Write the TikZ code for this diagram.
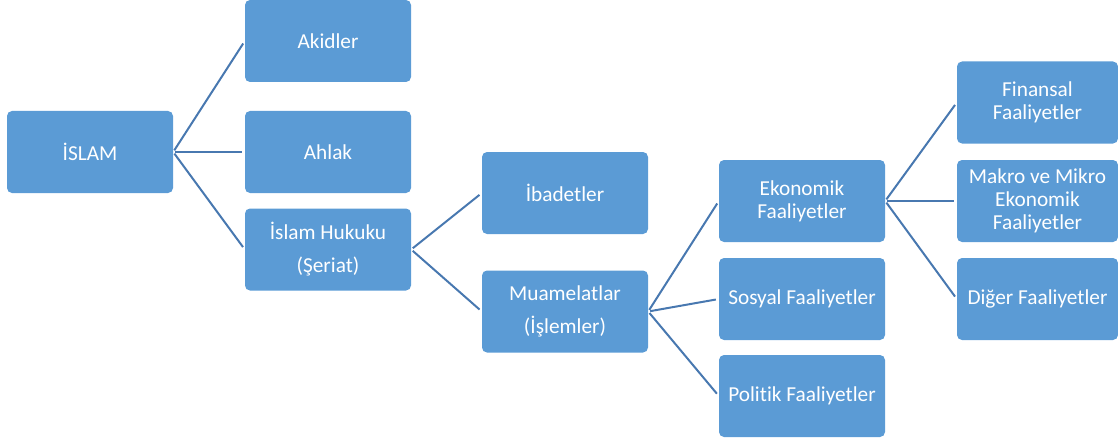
\documentclass[tikz,border=0pt]{standalone}
\usepackage{fontspec}
\setmainfont{Carlito}[Ligatures=NoCommon]
\usetikzlibrary{positioning}
\definecolor{boxblue}{HTML}{5B9BD5}
\definecolor{lineblue}{HTML}{4878B0}

\begin{document}
\begin{tikzpicture}[x=1pt,y=-1pt,
        box node/.style={rectangle,rounded corners=5pt,fill=boxblue,text=white,
          minimum width=166pt,minimum height=82pt,inner sep=2pt,
          align=center,font=\fontsize{21.3}{23}\selectfont},
        wide lines/.style={font=\fontsize{21.3}{33}\selectfont},
        branch/.style={draw=lineblue,line width=2pt,shorten <=2pt,shorten >=3pt}]

      \useasboundingbox (0,0) rectangle (1118,441);

      \node[box node] (islam) at (90,152) {İSLAM};

      \node[box node] (akid) at (328,41) {Akidler};
      \node[box node] (ahlak) at (328,152) {Ahlak};
      \node[box node,wide lines] (hukuk) at (328,249.5) {İslam Hukuku\\(Şeriat)};

      \node[box node] (ibadet) at (565,193) {İbadetler};
      \node[box node,wide lines] (muamelat) at (565,311.5) {Muamelatlar\\(İşlemler)};

      \node[box node] (ekonomik) at (802,201) {Ekonomik\\Faaliyetler};
      \node[box node] (sosyal) at (802,299) {Sosyal Faaliyetler};
      \node[box node] (politik) at (802,396) {Politik Faaliyetler};

      \node[box node,minimum width=161pt] (finans) at (1037.5,102.5) {Finansal\\Faaliyetler};
      \node[box node,minimum width=161pt] (makro) at (1037.5,201) {Makro ve Mikro\\Ekonomik\\Faaliyetler};
      \node[box node,minimum width=161pt] (diger) at (1037.5,299) {Diğer Faaliyetler};

      \path[branch]
      (islam.east) edge (akid.west)
      edge (ahlak.west)
      edge (hukuk.west)
      (hukuk.east) edge (ibadet.west)
      edge (muamelat.west)
      (muamelat.east) edge (ekonomik.west)
      edge (sosyal.west)
      edge (politik.west)
      (ekonomik.east) edge (finans.west)
      edge (makro.west)
      edge (diger.west);
    \end{tikzpicture}
\end{document}
